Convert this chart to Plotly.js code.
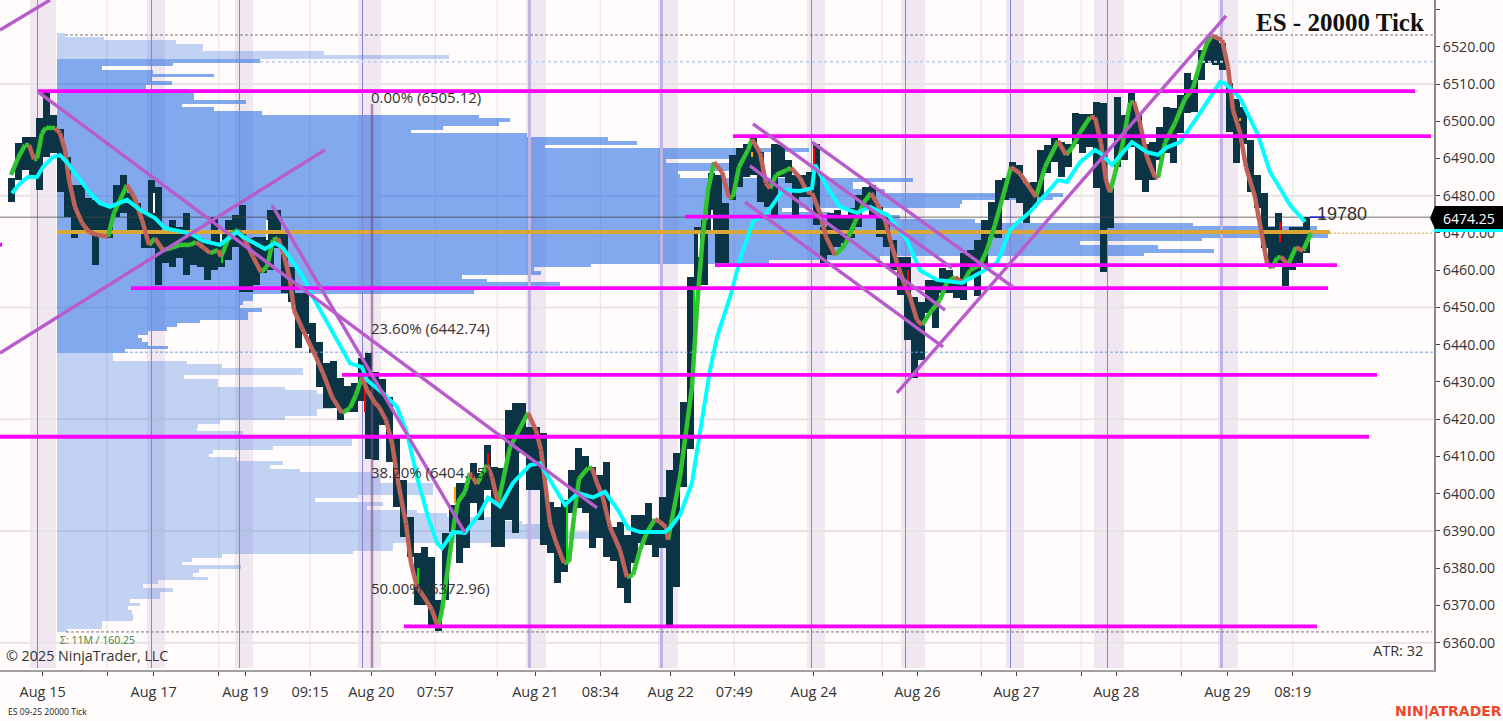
<!DOCTYPE html>
<html><head><meta charset="utf-8">
<script src="https://cdn.plot.ly/plotly-3.0.1.min.js"></script>
<style>html,body{margin:0;padding:0;background:#fffcfb;overflow:hidden}#chart{width:1503px;height:721px}</style>
</head><body><div id="chart"></div>
<script>
// ---------- axis ----------
const priceTicks=[6530,6520,6510,6500,6490,6480,6470,6460,6450,6440,6430,6420,6410,6400,6390,6380,6370,6360];
const priceLabels=["","6520.00","6510.00","6500.00","6490.00","6480.00","6470.00","6460.00","6450.00","6440.00","6430.00","6420.00","6410.00","6400.00","6390.00","6380.00","6370.00","6360.00"];
const priceGrid=[6510,6480,6450,6420,6390,6360];
const timeTicks=[42.7,107,153.7,218.7,245.3,310,371.3,435.3,497.3,535.3,600.3,670.7,734.3,813.7,882,917.3,981.3,1016.3,1081.3,1116.3,1181.3,1227.3,1292.7];
const timeLabels=["Aug 15","","Aug 17","","Aug 19","09:15","Aug 20","07:57","","Aug 21","08:34","Aug 22","07:49","Aug 24","","Aug 26","","Aug 27","","Aug 28","","Aug 29","08:19"];
const timeGrid=[107,218.7,310,435.3,497.3,600.3,734.3,882,981.3,1081.3,1181.3,1292.7];
// ---------- sessions ----------
const sessionStart=[30,147,235,358,526,658,807,901,1006,1094,1218];
const sessionEnd=[56,165,253,381,546,678,825,925,1024,1124,1238];
const sessionLine=[37.5,151,239,362,529.7,661.7,811.7,905.3,1010.7,1107.3,1221.7];
const sessionLineWidth=[1,1,1,1,2.5,2.5,1,1,1,1,2.5];
// ---------- price bars ----------
const firstBar=11, barStep=7;
const barHigh=[6484.8,6494.2,6495.8,6495.8,6501,6508.4,6501.7,6498,6490.4,6482.9,
6482.9,6479.4,6478.9,6478,6477,6482.9,6485.6,6480.7,6478,6475.4,
6484.2,6482.3,6470.8,6473.5,6471.6,6475.4,6470,6468.6,6467.3,6474.3,
6470.8,6473.5,6474.8,6477.5,6468.6,6469,6469,6476.2,6476.2,6470.8,
6461,6453.9,6453.9,6445.8,6440.7,6435,6435.6,6431,6429,6429.8,
6436.4,6437.8,6432.7,6430.8,6426,6415.2,6403.7,6393.8,6384,6385.7,
6383,6371.5,6389.5,6397,6402.9,6402.9,6408.3,6405.6,6413,6407.2,
6407,6422.5,6424.4,6424.4,6418,6418,6416.3,6397.8,6396.4,6398.3,
6406.4,6412.3,6410,6407.2,6405,6408.5,6391,6392.4,6389,6394.3,
6394.3,6397.5,6393,6399,6406.4,6411,6424.6,6458.2,6471.6,6473.5,
6486,6485.6,6478,6491,6492.8,6494,6495.8,6491.7,6484.2,6494,
6493.6,6489.6,6485.6,6485.6,6486.4,6494,6471.6,6475.4,6476.2,6474,
6476.7,6480.2,6482.3,6482.9,6477,6474.3,6468,6463.6,6463.6,6452.8,
6451.5,6457.4,6457.4,6460.6,6460,6457.4,6464.6,6465.4,6468,6473.5,
6478.3,6484.2,
6484.8,6489,6488.3,6483.4,6483.7,6492.3,6493.6,6495.5,6494.4,6494,
6502.2,6502,6502,6505.2,6505,6482,6506.5,6501.7,6507.6,6502.2,
6494,6494.4,6498.5,6503.8,6503.5,6507,6513,6511,6519,6522.3,
6522.3,6521,6510.3,6506,6503.8,6495,6485.6,6480.7,6471.6,6475.4,
6470,6471.6,6471.6,6474.3];
const barLow=[6478.3,6484.2,6486.9,6485,6481.5,6490.4,6491.5,6481,6474.3,6468.6,
6470.8,6470.8,6461.4,6470,6468.6,6474.3,6475.4,6470,6470,6466,
6466,6456,6462,6461,6463.3,6458.7,6461.4,6461,6457.4,6460,
6461,6462.8,6466.2,6454.2,6454.2,6456,6459.3,6460,6466,6453.9,
6451.5,6439,6443,6437.8,6428.7,6423,6423,6419.8,6422,6422,
6425,6409.3,6409,6418.5,6408.5,6396.4,6388.4,6383,6370,6370,
6364.2,6363.2,6371.5,6389.7,6381.5,6385.4,6397.5,6393,6401,6385.7,
6385.7,6393,6389.5,6411,6401,6401,6386.2,6384,6376,6379,
6394.8,6396.2,6394.8,6385.4,6388,6383,6382,6374.7,6370.7,6381.5,
6386.8,6386.2,6383,6385.4,6364.8,6375,6401.8,6412,6455.5,6456,
6470,6462,6462,6478.9,6482.3,6485,6485.6,6478.3,6477,6474.8,
6485,6483.4,6474.8,6479.7,6479.7,6472.2,6462,6464,6466.2,6467.3,
6468.6,6471.6,6476.2,6474.8,6469,6466.2,6460,6453.4,6441.3,6431,
6436,6448.5,6444.5,6453.9,6453.9,6452.5,6452,6458.2,6453,6461,
6469,6468.6,
6478.9,6479.4,6478,6472.7,6476.7,6479.7,6486,6489,6485,6487.7,
6494,6491.5,6493,6482,6459.5,6471.3,6487.7,6489.6,6493,6484.2,
6481,6484.2,6489.6,6491.5,6488.8,6496.8,6502.2,6502.5,6511,6515.6,
6515,6513.8,6497,6488.8,6494,6481,6476.7,6466,6460.6,6462,
6455.8,6460,6462,6464.6];
// small coloured body slits inside the bars
const slitX=[814,908,1280,365,488,455,752,1240,694,418,222,567,154,267,221,712,699];
const slitTop=[6492.8,6460,6473,6432.7,6411,6401.8,6491.7,6501,6454.7,6380,6464.6,6397.5,6480.7,6473.5,6470.8,6476.2,6470];
const slitBottom=[6486.9,6456.6,6467.6,6422,6407,6397.5,6490.4,6500,6431.3,6375,6462,6381.4,6475.4,6468.1,6467.3,6470.8,6463.6];
const slitColor=["#ff0000","#ff0000","#ff0000","#ff0000","#ff0000","#ffa500","#ffa500","#ffa500","#00e000","#00e000","#00e000","#00e000","#ffffff","#ffffff","#ffffff","#ffffff","#ffffff"];
// ---------- fast average (green rising / red falling) ----------
const fastX=[11,18,25,29,34,37,42,46,55,60,65,69,75,82,89,97,108,114,127,134,142,149,155,163,172,180,190,196,204,210,218,221,230,238,245,253,261,267,273,278,284,290,294,302,316,323,332,342,350,356,362,367,375,379,386,392,399,406,411,417,424,432,438,442,448,454,458,465,470,477,487,492,498,510,520,528,536,541,546,550,556,564,569,574,579,588,592,597,603,610,620,627,633,640,647,655,660,666,668,680,692,697,703,708,714,722,729,733,739,748,752,760,766,770,776,787,791,800,807,812,820,826,835,845,855,864,871,877,885,891,897,904,910,917,922,932,940,947,955,963,970,980,987,995,1002,1011,1020,1030,1036,1045,1058,1066,1072,1080,1090,1095,1101,1106,1110,1115,1122,1130,1134,1140,1147,1155,1158,1165,1175,1185,1193,1200,1207,1212,1222,1228,1233,1240,1246,1255,1261,1267,1272,1277,1281,1288,1296,1303,1311];
const fastP=[6485.6,6490.1,6493.6,6493.6,6489.8,6490,6496.8,6498.2,6498.2,6496.8,6492.3,6484.2,6477,6472.7,6470.3,6469.5,6469,6475.4,6482.9,6479.7,6473.5,6466.8,6468.6,6465.4,6466,6466.8,6466.8,6467.6,6466,6464.6,6465.4,6463.6,6469.5,6470.8,6468.1,6463.6,6459.5,6460.9,6468.1,6468.6,6464.1,6457.4,6449.3,6444.5,6436.7,6432.4,6426,6421.7,6423,6426.5,6431.3,6427.9,6424.4,6423.3,6419.8,6413.6,6401.8,6392,6381.4,6375,6372.3,6368.8,6364,6368.8,6380.3,6392,6397.8,6400.5,6405.6,6402.6,6407.7,6404.5,6397.2,6412.5,6417.6,6421.7,6417,6411.7,6401,6392,6387,6381.4,6381.7,6393.8,6404,6406.9,6406.9,6402.9,6398.9,6391,6384.9,6377.6,6378.2,6384.9,6389.7,6393.2,6392.4,6391,6387.6,6404.5,6428.7,6450.1,6470,6481.5,6489,6486.4,6479.4,6479.7,6487.7,6492.3,6495.2,6491.5,6483.4,6482,6485.6,6486.9,6487.5,6484.8,6481,6480.7,6475.4,6469,6464,6466.8,6473,6478.3,6480.7,6478,6473.5,6467.3,6462,6456.6,6452.8,6446.6,6445.3,6449.3,6452,6456.8,6458.2,6456.6,6460,6461.4,6465.4,6472.2,6478.9,6487.7,6486,6482,6479.7,6487.7,6494.7,6491,6492.8,6497,6501.1,6501,6494.2,6484.2,6480.9,6486,6493,6505,6505.2,6499.5,6490.4,6485,6484.8,6494.2,6499.5,6506,6508.9,6515.6,6521,6522.9,6521.8,6514.6,6503,6497,6487.7,6479.7,6470.8,6462,6460.6,6463.3,6463.6,6461.4,6466.2,6465.2,6470];
// ---------- slow average (cyan) ----------
const slowX=[12,20,28,37,43,53,60,67,78,90,100,110,127,140,155,165,183,193,203,220,237,243,265,275,283,293,303,313,333,347,350,362,367,383,397,407,417,428,437,442,453,465,480,488,500,513,530,540,550,565,578,593,605,618,628,640,665,670,680,692,700,710,717,730,742,753,767,783,800,812,815,827,840,857,870,888,907,920,937,962,980,997,1010,1017,1030,1043,1058,1067,1080,1095,1100,1112,1132,1147,1158,1167,1180,1197,1220,1225,1240,1258,1270,1280,1290,1305];
const slowP=[6480.7,6483.4,6485,6485,6487.7,6490.4,6490.9,6489,6485,6480.7,6478,6477,6478.9,6476.2,6474,6471.3,6470.3,6469.5,6467.9,6466.8,6470.3,6469,6465.7,6467.3,6466,6461.9,6458.2,6452.8,6443.2,6436.4,6435,6434,6430.5,6427,6423.3,6416.3,6404.5,6393.8,6386.8,6385.4,6389.7,6389.5,6394.8,6398.9,6396.6,6402.9,6407.7,6408.2,6403.7,6397,6400.2,6399,6400.5,6395.6,6390.8,6389.7,6389.7,6390.8,6394.3,6402.9,6416.5,6433.2,6442.1,6452.8,6464.6,6473,6475.4,6481.5,6481.3,6482,6488.3,6482.4,6477,6475.4,6477,6474.8,6468.1,6460,6457.4,6456.6,6459.3,6462,6470.8,6472.7,6475.6,6479.7,6484.2,6483.7,6489,6492.3,6491.5,6488.3,6494.4,6491.7,6491,6493,6494.4,6501,6510.5,6510.2,6506.2,6496.3,6486.4,6482,6477.5,6473];
// ---------- volume profile ----------
const profilePrice=[6523.25,6522.25,6521.25,6520.25,6519.25,6518.25,6517.25,6516.25,6515.25,6514.25,6513.25,6512.25,6511.25,6510.25,6509.25,6508.25,6507.25,6506.25,6505.25,6504.25,6503.25,6502.25,6501.25,6500.25,6499.25,6498.25,6497.25,6496.25,6495.25,6494.25,6493.25,6492.25,6491.25,6490.25,6489.25,6488.25,6487.25,6486.25,6485.25,6484.25,6483.25,6482.25,6481.25,6480.25,6479.25,6478.25,6477.25,6476.25,6475.25,6474.25,6473.25,6472.25,6471.25,6470.25,6469.25,6468.25,6467.25,6466.25,6465.25,6464.25,6463.25,6462.25,6461.25,6460.25,6459.25,6458.25,6457.25,6456.25,6455.25,6454.25,6453.25,6452.25,6451.25,6450.25,6449.25,6448.25,6447.25,6446.25,6445.25,6444.25,6443.25,6442.25,6441.25,6440.25,6439.25,6438.25,6437.25,6436.25,6435.25,6434.25,6433.25,6432.25,6431.25,6430.25,6429.25,6428.25,6427.25,6426.25,6425.25,6424.25,6423.25,6422.25,6421.25,6420.25,6419.25,6418.25,6417.25,6416.25,6415.25,6414.25,6413.25,6412.25,6411.25,6410.25,6409.25,6408.25,6407.25,6406.25,6405.25,6404.25,6403.25,6402.25,6401.25,6400.25,6399.25,6398.25,6397.25,6396.25,6395.25,6394.25,6393.25,6392.25,6391.25,6390.25,6389.25,6388.25,6387.25,6386.25,6385.25,6384.25,6383.25,6382.25,6381.25,6380.25,6379.25,6378.25,6377.25,6376.25,6375.25,6374.25,6373.25,6372.25,6371.25,6370.25,6369.25,6368.25,6367.25,6366.25,6365.25,6364.25,6363.25];
const profileVolume=[8,47,119,146,146,267,392,203,116,45,96,157,95,115,89,133,137,137,189,125,157,205,422,453,442,386,354,470,551,580,488,752,703,676,609,673,673,621,623,856,796,796,828,1006,996,905,903,725,773,843,918,1136,1260,1273,1271,1145,1023,1101,1157,1087,823,712,534,477,484,405,430,503,482,417,196,196,186,182,205,191,191,143,120,110,91,81,85,91,111,68,56,56,130,165,246,246,127,161,161,228,260,268,273,276,276,260,260,228,163,141,140,186,268,295,295,216,156,152,180,226,213,243,316,323,323,376,376,376,301,258,326,310,360,390,443,465,485,485,533,533,443,336,336,296,165,135,125,184,142,136,151,101,86,116,103,103,73,83,71,75,76,76,45,45,10];
const profileAnchor=57, valueHigh=6516.25, valueLow=6438.25, pointOfControl=6470.25;
// ---------- drawn levels and trend lines ----------
const levelPrice=[6508.1,6496,6474.4,6461.4,6455.2,6431.9,6415.3,6364.4,6466.9];
const levelFrom=[38,733,685,715,131,342,0,404,0];
const levelTo=[1415,1431,880,1337,1328,1377,1369,1317,2];
const trendX0=[0,0,38,272,753,812,750,745,897];
const trendP0=[6524.5,6437.8,6507.9,6477.5,6499.3,6494.4,6488,6478.3,6427.1];
const trendX1=[50,325,597,465,952,1013,945,943,1226];
const trendP1=[6532.55,6492.3,6396.2,6389.5,6460.6,6455.5,6449.3,6439.4,6528.3];
const lastPrice=6474.25, sessionHigh=6523.15, sessionLow=6362.9, upperValue=6516, lowerValue=6438;
// ---------- page geometry ----------
const W=1434,H=670,yMax=6532.55,yMin=6352.68,sessionFoot=6353.2;
const px=x=>x/W, py=y=>(H-y)/H;
const barX=barHigh.map((_,i)=>firstBar+i*barStep);
function splitSegs(rising){const x=[],y=[];for(let i=1;i<fastX.length;i++){const up=fastP[i]>=fastP[i-1];if(up===rising){x.push(fastX[i-1],fastX[i],null);y.push(fastP[i-1],fastP[i],null);}}return{x,y};}
function ln(x,y,color,width,dash){return{type:'scatter',mode:'lines',x,y,hoverinfo:'skip',line:{color,width,dash:dash||'solid',shape:'linear'},cliponaxis:true};}
const inValue=profilePrice.map(p=>p<=valueHigh&&p>=valueLow);
const lightIdx=profilePrice.map((_,i)=>i).filter(i=>!inValue[i]);
const darkIdx=profilePrice.map((_,i)=>i).filter(i=>inValue[i]);
function prof(idx,color){return{type:'bar',orientation:'h',y:idx.map(i=>profilePrice[i]),x:idx.map(i=>profileVolume[i]),base:profileAnchor,width:1,marker:{color,line:{width:0}},hoverinfo:'skip'};}
const up=splitSegs(true),dn=splitSegs(false);
const levX=[],levY=[];levelPrice.forEach((p,i)=>{levX.push(levelFrom[i],levelTo[i],null);levY.push(p,p,null);});
const trX=[],trY=[];trendX0.forEach((x,i)=>{trX.push(x,trendX1[i],null);trY.push(trendP0[i],trendP1[i],null);});
const traces=[
 prof(lightIdx,'rgba(30,96,218,0.27)'),
 prof(darkIdx,'rgba(27,100,227,0.55)'),
 {type:'bar',x:sessionLine,base:sessionFoot,y:sessionLine.map(()=>yMax-sessionFoot),width:sessionLineWidth,marker:{color:sessionLineWidth.map(w=>w>1?'#bdb6e2':'#8583cf'),line:{width:0}},hoverinfo:'skip'},
 {type:'bar',x:barX,base:barLow,y:barHigh.map((h,i)=>h-barLow[i]),width:7,marker:{color:'#0b3444',line:{width:0}},hoverinfo:'skip'},
 {type:'bar',x:slitX,base:slitBottom,y:slitTop.map((t,i)=>t-slitBottom[i]),width:1.6,marker:{color:slitColor,line:{width:0}},hoverinfo:'skip'},
 ln([260,W],[upperValue,upperValue],'#c4d4f4',2,'dot'),
 ln([125,W],[lowerValue,lowerValue],'#6d9ff0',1,'3px,2px'),
 ln([65,W],[sessionHigh,sessionHigh],'#777',1,'3px,2px'),
 ln([66,1432],[sessionLow,sessionLow],'#777',1,'3px,2px'),
 ln([0,W],[lastPrice,lastPrice],'rgba(70,70,70,0.75)',1),
 ln([57,1330],[pointOfControl,pointOfControl],'#d9a637',4),
 ln([1330,W],[pointOfControl-0.3,pointOfControl-0.3],'#d9a637',1,'2px,2px'),
 ln([372,372],[6504.6,sessionFoot],'rgba(125,75,135,0.6)',2.5),
 ln(up.x,up.y,'#30c430',4.5),
 ln(dn.x,dn.y,'#bf625a',4.5),
 ln(slowX,slowP,'#00ffff',4),
 ln(levX,levY,'#ff00ff',3.8),
 ln(trX,trY,'#b85ccc',3.4),
 ln([1310,1325],[lastPrice,lastPrice],'#1a1ad0',1.5)
];
const shapes=[];
sessionStart.forEach((s,i)=>shapes.push({type:'rect',layer:'below',xref:'x',yref:'paper',x0:s,x1:sessionEnd[i],y0:py(668),y1:1,fillcolor:'#f1e7f0',line:{width:0}}));
priceGrid.forEach(p=>shapes.push({type:'line',layer:'below',xref:'x',yref:'y',x0:0,x1:W,y0:p,y1:p,line:{color:'#e7e5e4',width:2}}));
timeGrid.forEach(t=>shapes.push({type:'line',layer:'below',xref:'x',yref:'paper',x0:t,x1:t,y0:py(668),y1:1,line:{color:'#eae7e6',width:1.2}}));
// last-price flag on the axis
shapes.push({type:'path',layer:'above',xref:'paper',yref:'paper',fillcolor:'#000',line:{width:0},
 path:`M ${px(1430)} ${py(218)} L ${px(1435)} ${py(206)} L ${px(1503)} ${py(206)} L ${px(1503)} ${py(229)} L ${px(1435)} ${py(229)} Z`});
shapes.push({type:'line',layer:'above',xref:'paper',yref:'paper',x0:px(1434),x1:px(1503),y0:py(230.5),y1:py(230.5),line:{color:'#00ffff',width:3}});
const F='"Open Sans","Noto Sans",sans-serif';
function note(text,x,y,opt){opt=opt||{};return{text,xref:'paper',yref:'paper',x:px(x),y:py(y),xanchor:opt.xa||'left',yanchor:'middle',showarrow:false,borderpad:0,
 font:{family:opt.f||F,size:opt.s||15,color:opt.c||'#333',weight:opt.w||400}};}
const annotations=[
 note('ES - 20000 Tick',1425,22,{xa:'right',f:'"Liberation Serif",serif',s:25,c:'#111',w:700}),
 note('0.00% (6505.12)',370,97),
 note('23.60% (6442.74)',370,328),
 note('38.20% (6404.15)',370,472),
 note('50.00% (6372.96)',370,588),
 note('19780',1316,214,{s:18,f:'"Liberation Sans",sans-serif'}),
 note('Σ: 11M / 160.25',59,640,{s:10.5,c:'#3d7f3d'}),
 note('© 2025 NinjaTrader, LLC',5,655,{s:14.3}),
 note('ATR: 32',1424,650,{xa:'right',s:14.5}),
 note('ES 09-25 20000 Tick',7,712,{s:8.6,c:'#222'}),
 note('NIN|ATRADER',1503,711,{xa:'right',f:'"DejaVu Sans",sans-serif',s:14,c:'#e9492c',w:700}),
 note('6474.25',1442,218,{s:14,c:'#fff'})
];
const layout={width:1503,height:721,margin:{l:0,r:69,t:0,b:51,pad:0},paper_bgcolor:'#fffcfb',plot_bgcolor:'#fffcfb',showlegend:false,barmode:'overlay',bargap:0,
 font:{family:F,color:'#333',size:14},
 xaxis:{range:[0,W],tickmode:'array',tickvals:timeTicks,ticktext:timeLabels,showgrid:false,zeroline:false,showline:true,linecolor:'#a0a0a0',linewidth:2,ticks:'outside',ticklen:4,tickcolor:'#444',tickwidth:1,ticklabelstandoff:4,tickfont:{family:F,size:14.5,color:'#333'},tickangle:0,fixedrange:true},
 yaxis:{range:[yMin,yMax],side:'right',tickmode:'array',tickvals:priceTicks,ticktext:priceLabels,showgrid:false,zeroline:false,showline:true,linecolor:'#888',linewidth:2,ticks:'outside',ticklen:4,tickcolor:'#444',tickwidth:1,ticklabelstandoff:0,tickfont:{family:F,size:14.2,color:'#333'},fixedrange:true},
 shapes,annotations};
Plotly.newPlot('chart',traces,layout,{staticPlot:true,displayModeBar:false});
</script></body></html>
